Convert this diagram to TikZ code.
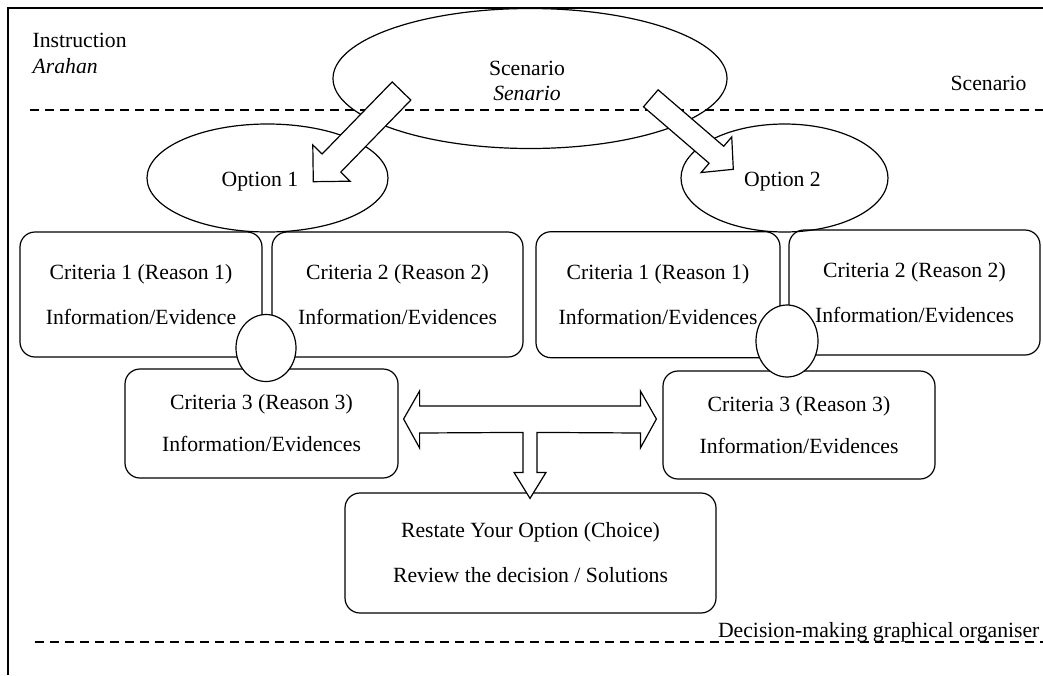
\documentclass[tikz,border=0pt]{standalone}
\usepackage{fontspec}
\setmainfont{Liberation Serif}
\usetikzlibrary{calc,shapes.geometric}

% hollow block arrow from #1 (tail) to #2 (tip):
% #3 half shaft width, #4 half head width, #5 head length
\newcommand{\drawblockarrow}[5]{%
  \coordinate (ba-c) at ($(#2)!#5!(#1)$);
  \draw[blockarrow]
    ($(#1)!#3!90:(#2)$) -- ($(ba-c)!#3!-90:(#1)$) -- ($(ba-c)!#4!-90:(#1)$)
    -- (#2) -- ($(ba-c)!#4!90:(#1)$) -- ($(ba-c)!#3!90:(#1)$)
    -- ($(#1)!#3!-90:(#2)$) -- cycle;
}

\begin{document}
\begin{tikzpicture}[x=1pt,y=-1pt,
  line width=1.2pt,
  frame/.style={line width=1.3pt},
  sep/.style={dash pattern=on 9pt off 6pt, line width=1.2pt},
  oval/.style={draw, ellipse, inner sep=0pt},
  box/.style={draw, rounded corners=15pt, align=center, inner sep=0pt,
    font={\fontsize{21.7}{45}\selectfont}},
  lowbox/.style={box, font={\fontsize{21.7}{42}\selectfont}},
  knot/.style={draw, fill=white, ellipse, inner sep=0pt},
  lbl/.style={font={\fontsize{21.7}{26}\selectfont}, inner sep=0pt},
  blockarrow/.style={draw, fill=white, line join=miter}
]
\useasboundingbox (0,0) rectangle (1043,675);

% frame and section separators
\draw[frame] (8,675) -- (8,8) -- (1043,8);
\draw[sep] (30,110) -- (1043,110);
\draw[sep] (35,642) -- (1043,642);

% side labels
\node[lbl, anchor=base west] (instr) at (32,47) {Instruction};
\node[lbl, anchor=base west] (arahan) at (32,73) {\itshape Arahan};
\node[lbl, anchor=base west] (scenlbl) at (950,90) {Scenario};
\node[lbl, anchor=base east] (golbl) at (1040,637) {Decision-making graphical organiser};

% scenario and the two options
\node[oval, minimum width=394pt, minimum height=140pt] (scen) at (530,78.5) {};
\node[lbl, anchor=base] (scent) at (527,75) {Scenario};
\node[lbl, anchor=base] (scenm) at (527,100) {\itshape Senario};

\node[oval, minimum width=241pt, minimum height=108pt] (opt1) at (267.5,178) {};
\node[lbl, anchor=base] (opt1t) at (260,186) {Option 1};
\node[oval, minimum width=207pt, minimum height=108pt] (opt2) at (784.5,178) {};
\node[lbl, anchor=base] (opt2t) at (782.5,186) {Option 2};

% criteria, left option
\node[box, minimum width=242pt, minimum height=125pt] (c1l) at (141,294.5)
  {Criteria 1 (Reason 1)\\Information/Evidence};
\node[box, minimum width=251pt, minimum height=125pt] (c2l) at (397.5,294.5)
  {Criteria 2 (Reason 2)\\Information/Evidences};
\node[lowbox, minimum width=273pt, minimum height=109pt] (c3l) at (261.5,423.5)
  {Criteria 3 (Reason 3)\\Information/Evidences};
\node[knot, minimum width=60pt, minimum height=67pt] (kl) at (266,348) {};

% criteria, right option
\node[box, minimum width=244pt, minimum height=126pt] (c1r) at (658,294.7)
  {Criteria 1 (Reason 1)\\Information/Evidences};
\node[box, minimum width=251pt, minimum height=125pt] (c2r) at (914.5,292.5)
  {Criteria 2 (Reason 2)\\Information/Evidences};
\node[lowbox, minimum width=272pt, minimum height=108pt] (c3r) at (799,425)
  {Criteria 3 (Reason 3)\\Information/Evidences};
\node[knot, minimum width=62pt, minimum height=72pt] (kr) at (787,341) {};

% conclusion
\node[box, minimum width=371pt, minimum height=120pt] (restate) at (530.5,553)
  {Restate Your Option (Choice)\\Review the decision / Solutions};

% arrows from the scenario to each option
\coordinate (a1tail) at (401.5,91);
\coordinate (a1tip) at (313.3,181.7);
\coordinate (a2tail) at (650.8,98.3);
\coordinate (a2tip) at (733.3,169.3);
\drawblockarrow{a1tail}{a1tip}{13pt}{26pt}{26pt}
\drawblockarrow{a2tail}{a2tip}{11.2pt}{23.5pt}{22.3pt}

% comparison arrow between both third criteria, leading down to the conclusion
\coordinate (tL) at ($(c3l.east)+(5,-4.5)$);
\coordinate (tR) at ($(c3r.west)+(-6,-6)$);
\coordinate (tD) at ($(restate.north)+(-0.5,6)$);
\draw[blockarrow] (tL) -- ($(tL)+(16,-28)$) -- ($(tL)+(16,-13)$)
  -- ($(tR)+(-16,-13)$) -- ($(tR)+(-16,-28)$) -- (tR)
  -- ($(tR)+(-16,29)$) -- ($(tR)+(-16,14)$)
  -- ($(tD)+(7,-66)$) -- ($(tD)+(7,-26)$) -- ($(tD)+(16,-26)$) -- (tD)
  -- ($(tD)+(-16,-26)$) -- ($(tD)+(-7,-26)$) -- ($(tD)+(-7,-66)$)
  -- ($(tL)+(16,14)$) -- ($(tL)+(16,29)$) -- cycle;
\end{tikzpicture}
\end{document}
